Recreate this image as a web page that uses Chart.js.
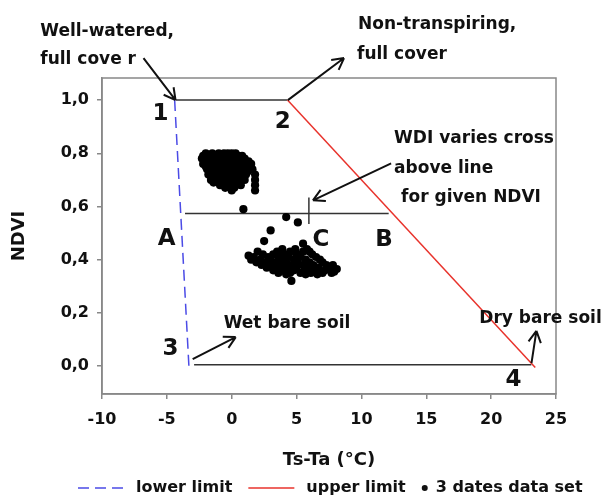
<!DOCTYPE html>
<html>
<head>
<meta charset="utf-8">
<script src="https://cdn.jsdelivr.net/npm/chart.js@4/dist/chart.umd.min.js"></script>
<style>
  body { margin: 0; background: #fff; }
  #wrap { width: 603px; height: 497px; }
</style>
</head>
<body>
<div id="wrap"><canvas id="myChart"></canvas></div>
<script>
// axis ticks
const xTicks = [-10, -5, 0, 5, 10, 15, 20, 25];
const yTicks = [0, 0.2, 0.4, 0.6, 0.8, 1.0];

// limit lines (Ts-Ta, NDVI)
const lowerLimitX = [-4.4, -3.3];
const lowerLimitY = [1.0, 0.0];
const upperLimitX = [4.3, 23.4];
const upperLimitY = [1.0, -0.005];

// horizontal guide lines and the cross mark at C
const topLineX = [-4.3, 4.3];
const topLineY = [1.0, 1.0];
const midLineX = [-3.6, 12.1];
const midLineY = [0.574, 0.574];
const bottomLineX = [-2.9, 23.1];
const bottomLineY = [0.005, 0.005];
const crossX = [5.95, 5.95];
const crossY = [0.534, 0.634];

// 3 dates data set
const dataPoints = [
  [-2.0,0.80],[-1.5,0.80],[-1.0,0.80],[-0.6,0.80],[-0.3,0.80],[0.0,0.80],[0.3,0.80],
  [-2.2,0.79],[-1.7,0.79],[-1.2,0.79],[-0.8,0.79],[-0.4,0.79],[0.1,0.79],[0.5,0.79],[0.8,0.79],
  [-2.3,0.78],[-1.9,0.78],[-1.4,0.78],[-0.9,0.78],[-0.2,0.78],[0.3,0.78],[0.7,0.78],[1.0,0.78],
  [-2.1,0.77],[-1.6,0.77],[-1.1,0.77],[-0.5,0.77],[0.0,0.77],[0.4,0.77],[0.9,0.77],[1.3,0.77],
  [-2.2,0.76],[-1.8,0.76],[-1.3,0.76],[-0.7,0.76],[-0.3,0.76],[0.2,0.76],[0.6,0.76],[1.1,0.76],[1.5,0.76],
  [-2.0,0.75],[-1.5,0.75],[-0.9,0.75],[-0.4,0.75],[0.1,0.75],[0.5,0.75],[0.9,0.75],[1.4,0.75],
  [-1.9,0.74],[-1.2,0.74],[-0.6,0.74],[0.0,0.74],[0.4,0.74],[1.0,0.74],[1.6,0.74],
  [-1.7,0.73],[-1.0,0.73],[-0.2,0.73],[0.3,0.73],[0.8,0.73],[1.2,0.73],
  [-1.8,0.72],[-1.3,0.72],[-0.5,0.72],[0.2,0.72],[0.6,0.72],[1.1,0.72],[1.8,0.72],
  [-1.5,0.71],[-0.8,0.71],[-0.1,0.71],[0.5,0.71],[0.9,0.71],
  [-1.6,0.70],[-1.1,0.70],[-0.3,0.70],[0.4,0.70],[1.0,0.70],[1.8,0.70],
  [-1.4,0.69],[-0.6,0.69],[0.1,0.69],[0.6,0.69],
  [-0.9,0.68],[-0.2,0.68],[0.3,0.68],[0.7,0.68],[1.8,0.68],
  [-0.5,0.67],[0.2,0.67],[0.0,0.66],[1.8,0.66],
  [0.9,0.59],
  [4.2,0.56],[5.1,0.54],[3.0,0.51],[2.5,0.47],[4.6,0.32],
  [5.5,0.46],[5.8,0.44],
  [3.9,0.44],[4.9,0.44],[6.0,0.43],
  [2.0,0.43],[3.5,0.43],[4.5,0.43],[5.5,0.43],
  [1.3,0.415],[2.4,0.42],[3.2,0.42],[4.0,0.42],[5.0,0.42],[6.2,0.42],
  [1.7,0.41],[2.8,0.41],[3.6,0.41],[4.4,0.41],[5.3,0.41],[6.5,0.41],
  [1.5,0.40],[2.2,0.40],[3.0,0.40],[3.9,0.40],[4.8,0.40],[5.7,0.40],[6.8,0.40],
  [1.9,0.39],[2.6,0.39],[3.4,0.39],[4.2,0.39],[5.1,0.39],[6.0,0.39],[7.0,0.39],
  [2.3,0.38],[3.0,0.38],[3.8,0.38],[4.6,0.38],[5.5,0.38],[6.3,0.38],[7.3,0.38],[7.8,0.38],
  [2.7,0.37],[3.5,0.37],[4.3,0.37],[5.0,0.37],[5.9,0.37],[6.7,0.37],[7.5,0.37],[8.1,0.365],
  [3.2,0.36],[4.0,0.36],[4.8,0.36],[5.6,0.36],[6.4,0.36],[7.2,0.36],[7.9,0.355],
  [3.6,0.35],[4.5,0.35],[5.3,0.35],[6.1,0.35],[7.0,0.35],[7.7,0.35],
  [4.2,0.345],[5.7,0.345],[6.6,0.345]
];

// annotation texts (left edge, middle) and big labels (centre), in data units
const noteTexts = [
  ['Well-watered,', -14.76, 1.257],
  ['full cove r', -14.76, 1.151],
  ['Non-transpiring,', 9.74, 1.283],
  ['full cover', 9.66, 1.170],
  ['WDI varies cross', 12.52, 0.857],
  ['above line', 12.52, 0.743],
  ['for given NDVI', 13.06, 0.634],
  ['Wet bare soil', -0.62, 0.158],
  ['Dry bare soil', 19.09, 0.177]
];
const bigLabels = [
  ['1', -5.49, 0.947], ['2', 3.94, 0.917], ['3', -4.71, 0.064], ['4', 21.72, -0.053],
  ['A', -5.02, 0.479], ['B', 11.75, 0.475], ['C', 6.88, 0.475]
];
// arrows: from x, from y, to x (tip), to y (tip)
const arrows = [
  [-6.80, 1.158, -4.33, 1.0],
  [4.33, 1.0, 8.66, 1.158],
  [12.29, 0.762, 6.26, 0.623],
  [-3.01, 0.026, 0.31, 0.109],
  [23.11, 0.011, 23.49, 0.132]
];

const FONT = "'DejaVu Sans', sans-serif";

function pairs(xs, ys) {
  return xs.map((x, i) => ({x: x, y: ys[i]}));
}
function guide(xs, ys) {
  return {type: 'line', data: pairs(xs, ys), borderColor: '#333', borderWidth: 1.5,
          pointRadius: 0, showLine: true, fill: false, noLegend: true};
}

const annotate = {
  id: 'annotate',
  afterDatasetsDraw(chart) {
    const ctx = chart.ctx, a = chart.chartArea;
    const xs = chart.scales.x, ys = chart.scales.y;
    ctx.save();
    // box frame
    ctx.strokeStyle = '#888';
    ctx.lineWidth = 1.5;
    ctx.strokeRect(a.left, a.top, a.right - a.left, a.bottom - a.top);

    // arrows
    ctx.strokeStyle = '#111';
    ctx.lineWidth = 2;
    arrows.forEach(function (ar) {
      const x1 = xs.getPixelForValue(ar[0]), y1 = ys.getPixelForValue(ar[1]);
      const x2 = xs.getPixelForValue(ar[2]), y2 = ys.getPixelForValue(ar[3]);
      const ang = Math.atan2(y2 - y1, x2 - x1);
      ctx.beginPath();
      ctx.moveTo(x1, y1);
      ctx.lineTo(x2, y2);
      [0.5, -0.5].forEach(function (d) {
        ctx.moveTo(x2, y2);
        ctx.lineTo(x2 - 13 * Math.cos(ang + d), y2 - 13 * Math.sin(ang + d));
      });
      ctx.stroke();
    });

    // texts
    ctx.fillStyle = '#111';
    ctx.textBaseline = 'middle';
    ctx.textAlign = 'left';
    ctx.font = 'bold 17px ' + FONT;
    noteTexts.forEach(function (t) {
      ctx.fillText(t[0], xs.getPixelForValue(t[1]), ys.getPixelForValue(t[2]));
    });
    ctx.textAlign = 'center';
    ctx.font = 'bold 23px ' + FONT;
    bigLabels.forEach(function (t) {
      ctx.fillText(t[0], xs.getPixelForValue(t[1]), ys.getPixelForValue(t[2]));
    });

    // legend along the bottom
    const items = chart.data.datasets.filter(d => !d.noLegend);
    ctx.font = 'bold 16px ' + FONT;
    ctx.textAlign = 'left';
    let x = 78;
    const ly = 488;
    items.forEach(function (d) {
      if (d.type === 'line') {
        ctx.strokeStyle = d.borderColor;
        ctx.lineWidth = d.borderWidth;
        ctx.setLineDash(d.borderDash || []);
        ctx.beginPath();
        ctx.moveTo(x, ly);
        ctx.lineTo(x + 46, ly);
        ctx.stroke();
        ctx.setLineDash([]);
        x += 58;
      } else {
        ctx.fillStyle = '#111';
        ctx.beginPath();
        ctx.arc(x + 3, ly, 3, 0, Math.PI * 2);
        ctx.fill();
        x += 14;
      }
      ctx.fillStyle = '#111';
      ctx.fillText(d.label, x, ly);
      x += ctx.measureText(d.label).width + 16;
    });
    ctx.restore();
  }
};

var ctx = document.getElementById('myChart').getContext('2d');
var chart = new Chart(ctx, {
  type: 'scatter',
  data: {
    datasets: [
      {type: 'line', label: 'lower limit', data: pairs(lowerLimitX, lowerLimitY),
       borderColor: '#4b4be6', borderWidth: 1.5, borderDash: [11, 6], pointRadius: 0, fill: false},
      {type: 'line', label: 'upper limit', data: pairs(upperLimitX, upperLimitY),
       borderColor: '#e8332c', borderWidth: 1.5, pointRadius: 0, fill: false},
      {label: '3 dates data set', data: dataPoints.map(p => ({x: p[0], y: p[1]})),
       backgroundColor: '#000', borderColor: '#000', pointRadius: 4.1, borderWidth: 0},
      guide(topLineX, topLineY),
      guide(midLineX, midLineY),
      guide(bottomLineX, bottomLineY),
      guide(crossX, crossY)
    ]
  },
  options: {
    responsive: true,
    maintainAspectRatio: false,
    animation: false,
    layout: {padding: {top: 78, right: 47, bottom: 26, left: 0}},
    plugins: {legend: {display: false}, tooltip: {enabled: false}},
    scales: {
      x: {
        type: 'linear', min: -10, max: 25,
        afterBuildTicks: s => { s.ticks = xTicks.map(v => ({value: v})); },
        afterFit: s => { s.height = 77; },
        grid: {drawOnChartArea: false, tickLength: 5, color: '#888', lineWidth: 1.5},
        border: {color: '#888', width: 1.5},
        ticks: {color: '#111', padding: 11, font: {family: FONT, size: 16, weight: 'bold'}},
        title: {display: true, text: 'Ts-Ta (°C)', color: '#111', padding: 0,
                font: {family: FONT, size: 18, weight: 'bold'}}
      },
      y: {
        type: 'linear', min: -0.105, max: 1.083,
        afterBuildTicks: s => { s.ticks = yTicks.map(v => ({value: v})); },
        afterFit: s => { s.width = 102; },
        grid: {drawOnChartArea: false, tickLength: 5, color: '#888', lineWidth: 1.5},
        border: {color: '#888', width: 1.5},
        ticks: {color: '#111', padding: 8, font: {family: FONT, size: 16, weight: 'bold'},
                callback: v => v.toFixed(1).replace('.', ',')},
        title: {display: true, text: 'NDVI', color: '#111', padding: {top: 9, bottom: 0},
                font: {family: FONT, size: 18, weight: 'bold'}}
      }
    }
  },
  plugins: [annotate]
});
</script>
</body>
</html>
